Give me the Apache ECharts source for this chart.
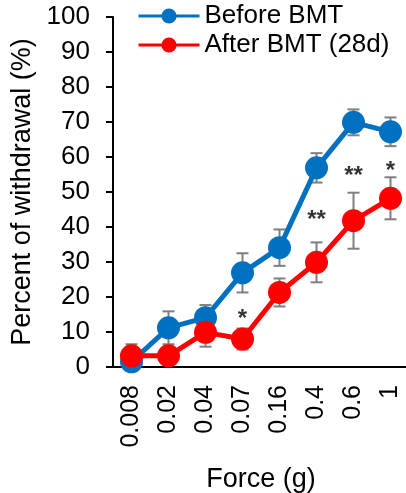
<!DOCTYPE html>
<html>
<head>
<meta charset="utf-8">
<script src="https://cdn.jsdelivr.net/npm/echarts@6/dist/echarts.min.js"></script>
<style>
html, body { margin: 0; padding: 0; background: #fff; }
#main { width: 406px; height: 493px; }
</style>
</head>
<body>
<div id="main"></div>
<script>
var forces = ['0.008', '0.02', '0.04', '0.07', '0.16', '0.4', '0.6', '1']
var before = [1.5, 11.2, 14.1, 26.9, 34.1, 56.9, 69.9, 67.2]
var beforeErr = [2.5, 4.7, 3.6, 5.6, 5.2, 4.2, 3.7, 4.1]
var after = [3.2, 3.2, 9.9, 8.0, 21.3, 29.9, 41.8, 48.2]
var afterErr = [3.3, 0, 4.1, 3.0, 4.0, 5.7, 8.0, 6.0]
// significance marks and the height they sit at
var sigText = ['', '', '', '*', '', '**', '**', '*']
var sigY = [0, 0, 0, 13.5, 0, 42, 54.4, 55.8]
var yTicks = [0, 10, 20, 30, 40, 50, 60, 70, 80, 90, 100]

var font = "'Liberation Sans', Arial, sans-serif"
var blue = '#0070C0'
var red = '#FF0000'

function errData(vals, errs) {
    return vals.map(function (v, i) { return [i, v, errs[i]] })
}

function renderErr(params, api) {
    var x = api.value(0)
    var m = api.value(1)
    var e = api.value(2)
    if (!e) return
    var top = api.coord([x, m + e])
    var bot = api.coord([x, m - e])
    var style = { stroke: '#7F7F7F', lineWidth: 2 }
    return {
        type: 'group',
        children: [
            { type: 'line', shape: { x1: top[0], y1: top[1], x2: bot[0], y2: bot[1] }, style: style },
            { type: 'line', shape: { x1: top[0] - 6, y1: top[1], x2: top[0] + 6, y2: top[1] }, style: style },
            { type: 'line', shape: { x1: bot[0] - 6, y1: bot[1], x2: bot[0] + 6, y2: bot[1] }, style: style }
        ]
    }
}

var sigData = []
sigText.forEach(function (t, i) {
    if (t) sigData.push({ value: [i, sigY[i]], name: t })
})

var myChart = echarts.init(document.getElementById('main'))
var option = {
    animation: false,
    textStyle: { fontFamily: font },
    grid: { left: 113, right: -3, top: 17, bottom: 126, outerBoundsMode: 'none', containLabel: false },
    legend: {
        orient: 'vertical',
        left: 137,
        top: 3,
        padding: 0,
        itemWidth: 61,
        itemHeight: 19,
        itemGap: 3,
        lineStyle: { width: 3 },
        textStyle: { fontFamily: font, fontSize: 26, lineHeight: 26, color: '#000' },
        data: ['Before BMT', 'After BMT (28d)']
    },
    xAxis: {
        type: 'category',
        data: forces,
        name: 'Force (g)',
        nameLocation: 'middle',
        nameGap: 99,
        nameTextStyle: { fontFamily: font, fontSize: 27, color: '#000' },
        axisLine: { lineStyle: { color: '#000', width: 2 } },
        axisTick: { show: false },
        axisLabel: { rotate: 90, margin: 18, fontFamily: font, fontSize: 25, color: '#000' },
        splitLine: { show: false }
    },
    yAxis: {
        type: 'value',
        min: yTicks[0],
        max: yTicks[yTicks.length - 1],
        interval: 10,
        name: 'Percent of withdrawal (%)',
        nameLocation: 'middle',
        nameRotate: 90,
        nameGap: 73,
        nameTextStyle: { fontFamily: font, fontSize: 27, color: '#000' },
        axisLine: { show: true, lineStyle: { color: '#000', width: 2 } },
        axisTick: { show: true, length: 7, lineStyle: { color: '#000', width: 2 } },
        axisLabel: { margin: 23, fontFamily: font, fontSize: 26, color: '#000' },
        splitLine: { show: false }
    },
    series: [
        {
            type: 'custom',
            z: 1,
            renderItem: renderErr,
            data: errData(before, beforeErr),
            encode: { x: 0, y: 1 },
            silent: true
        },
        {
            type: 'custom',
            z: 1,
            renderItem: renderErr,
            data: errData(after, afterErr),
            encode: { x: 0, y: 1 },
            silent: true
        },
        {
            name: 'Before BMT',
            type: 'line',
            z: 2,
            data: before,
            symbol: 'circle',
            symbolSize: 23,
            lineStyle: { color: blue, width: 5 },
            itemStyle: { color: blue }
        },
        {
            name: 'After BMT (28d)',
            type: 'line',
            z: 3,
            data: after,
            symbol: 'circle',
            symbolSize: 23,
            lineStyle: { color: red, width: 5 },
            itemStyle: { color: red }
        },
        {
            type: 'scatter',
            z: 4,
            symbolSize: 0,
            data: sigData,
            label: {
                show: true,
                position: 'inside',
                formatter: function (p) { return p.name },
                fontFamily: font,
                fontSize: 24,
                fontWeight: 'bold',
                color: '#000'
            }
        }
    ]
}
myChart.setOption(option)
</script>
</body>
</html>
